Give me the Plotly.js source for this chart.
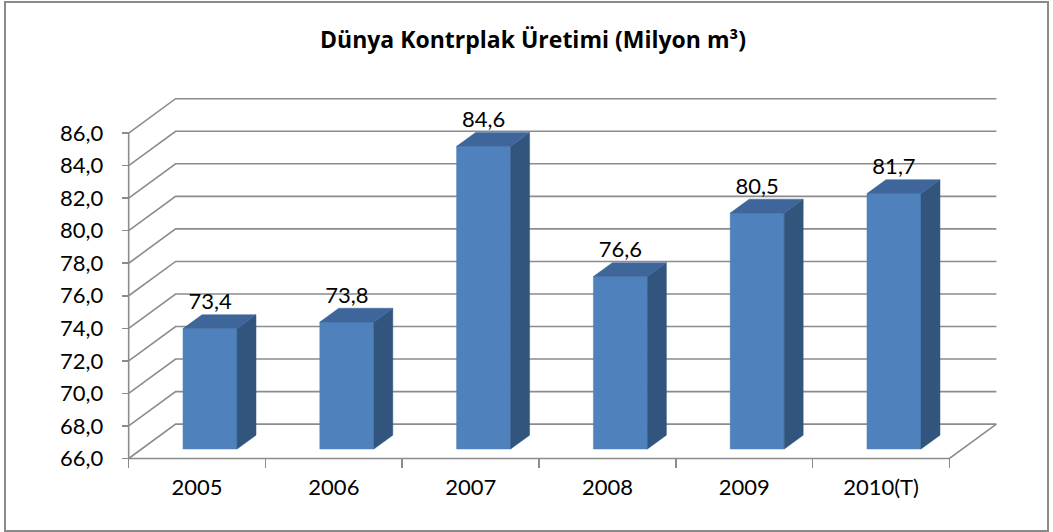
<!DOCTYPE html>
<html>
<head>
<meta charset="utf-8">
<script src="https://cdn.plot.ly/plotly-3.0.1.min.js"></script>
<style>
  html, body { margin: 0; padding: 0; background: #ffffff; }
  #wrap { position: relative; width: 1053px; height: 532px; }
  #chart { position: absolute; left: 0; top: 0; width: 1053px; height: 532px; }
  #frame { position: absolute; left: 4px; top: 1px; width: 1045px; height: 531px;
           box-sizing: border-box; border: 2px solid #8a8a8a; pointer-events: none; }
</style>
</head>
<body>
<div id="wrap"><div id="chart"></div><div id="frame"></div></div>
<script>
// ---- data ----
const categories = ['2005', '2006', '2007', '2008', '2009', '2010(T)'];
const values = [73.4, 73.8, 84.6, 76.6, 80.5, 81.7];
const valueLabels = ['73,4', '73,8', '84,6', '76,6', '80,5', '81,7'];
const yTickVals = [66, 68, 70, 72, 74, 76, 78, 80, 82, 84, 86];
const yTickText = ['66,0', '68,0', '70,0', '72,0', '74,0', '76,0', '78,0', '80,0', '82,0', '84,0', '86,0'];
const titleText = 'Dünya Kontrplak Üretimi (Milyon m³)';

// ---- 3D projection settings (style) ----
const FLOOR = yTickVals[0];
const TOPV = yTickVals[yTickVals.length - 1];
const N = categories.length;
const DX = 0.343;   // depth offset in category units
const DY = 2.11;    // depth offset in value units
const D0 = 0.276;   // bar front depth fraction
const D1 = 0.68;    // bar back depth fraction
const BW = 0.395;   // bar width in category units
const XR = [-0.1, 6.45];
const YR = [65.6, 88.4];

const gridColor = '#8c8c8c';
const frontColor = '#4f81bd';
const sideColor = '#32557e';
const topColor = '#3e669b';
const font = 'Lato, "Open Sans", sans-serif';
const titleFont = '"Open Sans", Lato, sans-serif';

const traces = [];

// grid (back wall + side wall)
const gx = [], gy = [];
yTickVals.forEach(v => {
  gx.push(0, DX, N + DX, null);
  gy.push(v, v + DY, v + DY, null);
});
// floor front edge and right edge
gx.push(0, N, N + DX, null);
gy.push(FLOOR, FLOOR, FLOOR + DY, null);
// front vertical axis line
gx.push(0, 0, null);
gy.push(FLOOR, TOPV, null);
traces.push({ type: 'scatter', mode: 'lines', x: gx, y: gy,
  line: { color: gridColor, width: 1.6 }, hoverinfo: 'skip', showlegend: false });

// bars
const ox0 = DX * D0, oy0 = DY * D0, ox1 = DX * D1, oy1 = DY * D1;
values.forEach((v, i) => {
  const c = i + 0.5, xl = c - BW / 2, xr = c + BW / 2;
  const faces = [
    { x: [xl + ox0, xr + ox0, xr + ox0, xl + ox0, xl + ox0],
      y: [FLOOR + oy0, FLOOR + oy0, v + oy0, v + oy0, FLOOR + oy0], col: frontColor },
    { x: [xr + ox0, xr + ox1, xr + ox1, xr + ox0, xr + ox0],
      y: [FLOOR + oy0, FLOOR + oy1, v + oy1, v + oy0, FLOOR + oy0], col: sideColor },
    { x: [xl + ox0, xr + ox0, xr + ox1, xl + ox1, xl + ox0],
      y: [v + oy0, v + oy0, v + oy1, v + oy1, v + oy0], col: topColor }
  ];
  faces.forEach(f => traces.push({
    type: 'scatter', mode: 'lines', x: f.x, y: f.y, fill: 'toself',
    fillcolor: f.col, line: { color: f.col, width: 0.5 },
    hoverinfo: 'skip', showlegend: false
  }));
});

// value labels
traces.push({
  type: 'scatter', mode: 'text',
  x: values.map((v, i) => i + 0.5 + ox0),
  y: values.map(v => v + oy1),
  text: valueLabels, textposition: 'top center',
  textfont: { family: font, size: 22, color: '#000000' },
  cliponaxis: false, hoverinfo: 'skip', showlegend: false
});

const layout = {
  width: 1053, height: 532,
  margin: { l: 115, r: 42, t: 94, b: 67 },
  paper_bgcolor: '#ffffff', plot_bgcolor: 'rgba(0,0,0,0)',
  showlegend: false,
  title: {
    text: '<b>' + titleText + '</b>',
    font: { family: titleFont, size: 23, color: '#000000' },
    x: 533 / 1053, xanchor: 'center', xref: 'container',
    y: 1 - 40 / 532, yanchor: 'middle', yref: 'container'
  },
  xaxis: {
    range: XR, anchor: 'free', position: (FLOOR - YR[0]) / (YR[1] - YR[0]),
    showgrid: false, zeroline: false, showline: false,
    tickmode: 'array', tickvals: categories.map((c, i) => i + 0.5), ticktext: categories,
    ticks: '', ticklabelstandoff: 14,
    tickfont: { family: font, size: 22, color: '#000000' },
    minor: { tickmode: 'array', tickvals: categories.map((c, i) => i).concat([N]),
             ticks: 'outside', ticklen: 9, tickwidth: 1.6, tickcolor: gridColor, showgrid: false },
    fixedrange: true
  },
  yaxis: {
    range: YR, anchor: 'free', position: (0 - XR[0]) / (XR[1] - XR[0]),
    showgrid: false, zeroline: false, showline: false,
    tickmode: 'array', tickvals: yTickVals, ticktext: yTickText,
    ticks: 'outside', ticklen: 7, tickwidth: 1.6, tickcolor: gridColor,
    ticklabelstandoff: 14,
    tickfont: { family: font, size: 22, color: '#000000' },
    fixedrange: true
  }
};

Plotly.newPlot('chart', traces, layout, { displayModeBar: false, staticPlot: true });
</script>
</body>
</html>
